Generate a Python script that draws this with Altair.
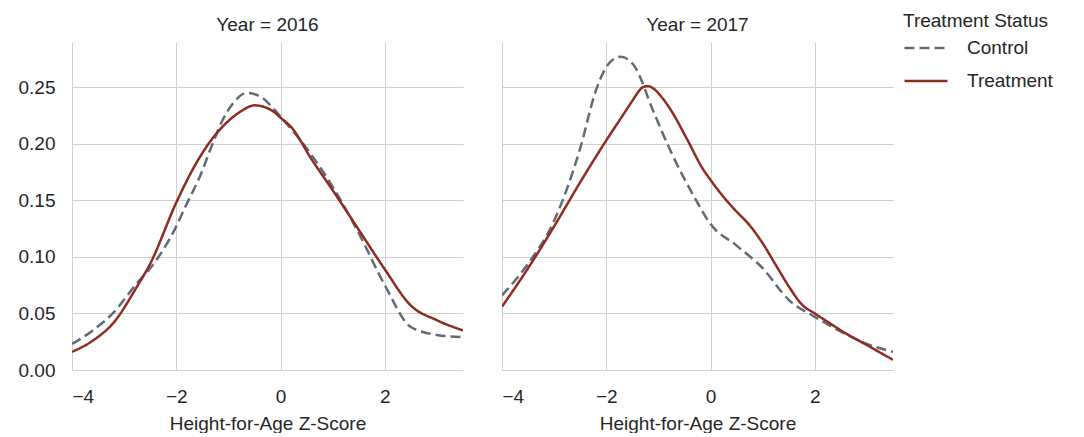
import altair as alt
import pandas as pd

FONT = "Liberation Sans"
TEXT = "#262626"

# ---- data ----
x_2016_treat = [-4, -3.6, -3.2, -2.75, -2.5, -2.0, -1.7, -1.35, -1.05, -0.75, -0.5, -0.15, 0, 0.2, 0.6, 1.0, 1.5, 2.0, 2.5, 3.0, 3.5]
y_2016_treat = [0.016, 0.026, 0.042, 0.074, 0.094, 0.148, 0.176, 0.202, 0.218, 0.229, 0.234, 0.229, 0.223, 0.215, 0.186, 0.159, 0.124, 0.089, 0.057, 0.044, 0.035]

x_2016_ctrl = [-4, -3.6, -3.2, -2.75, -2.5, -2.0, -1.84, -1.52, -1.33, -1.11, -0.89, -0.65, -0.4, -0.13, 0, 0.5, 1.0, 1.5, 2.0, 2.5, 3.0, 3.5]
y_2016_ctrl = [0.023, 0.035, 0.051, 0.077, 0.090, 0.127, 0.143, 0.174, 0.197, 0.221, 0.237, 0.245, 0.242, 0.231, 0.224, 0.196, 0.162, 0.121, 0.075, 0.038, 0.031, 0.029]

x_2017_treat = [-4, -3.5, -3.0, -2.5, -2.0, -1.7, -1.5, -1.4, -1.3, -1.2, -1.1, -0.95, -0.75, -0.45, -0.15, 0, 0.25, 0.5, 0.75, 1.0, 1.25, 1.5, 1.75, 2.0, 2.3, 2.5, 3.0, 3.5]
y_2017_treat = [0.056, 0.090, 0.127, 0.166, 0.203, 0.224, 0.238, 0.245, 0.250, 0.251, 0.249, 0.242, 0.229, 0.204, 0.178, 0.168, 0.153, 0.140, 0.128, 0.112, 0.093, 0.074, 0.058, 0.050, 0.041, 0.035, 0.022, 0.009]

x_2017_ctrl = [-4, -3.5, -3.0, -2.5, -2.2, -1.95, -1.72, -1.45, -1.1, -0.75, -0.3, 0, 0.5, 1.0, 1.5, 2.0, 2.5, 3.0, 3.5]
y_2017_ctrl = [0.066, 0.094, 0.132, 0.196, 0.247, 0.271, 0.277, 0.268, 0.229, 0.192, 0.152, 0.129, 0.110, 0.090, 0.062, 0.047, 0.034, 0.023, 0.016]

statuses = ["Control", "Treatment"]
status_colors = ["#5f6b75", "#8e2c20"]
status_dashes = [[10, 5], [1, 0]]
x_ticks = [-4, -2, 0, 2]
y_ticks = [0, 0.05, 0.10, 0.15, 0.20, 0.25]

rows = []
for year, status, xs, ys in [
    ("2016", "Control", x_2016_ctrl, y_2016_ctrl),
    ("2016", "Treatment", x_2016_treat, y_2016_treat),
    ("2017", "Control", x_2017_ctrl, y_2017_ctrl),
    ("2017", "Treatment", x_2017_treat, y_2017_treat),
]:
    for xv, yv in zip(xs, ys):
        rows.append({"Year": year, "Status": status, "z": xv, "density": yv})
df = pd.DataFrame(rows)

legend = alt.Legend(orient="none", legendX=831, legendY=-30)

base = alt.Chart(df).mark_line(strokeWidth=2.5, interpolate="monotone", clip=True).encode(
    x=alt.X("z:Q", title="Height-for-Age Z-Score",
            scale=alt.Scale(domain=[-4, 3.5], nice=False, zero=False),
            axis=alt.Axis(values=x_ticks, format="d")),
    y=alt.Y("density:Q", title=None,
            scale=alt.Scale(domain=[0, 0.29], nice=False),
            axis=alt.Axis(values=y_ticks, format=".2f")),
    color=alt.Color("Status:N", title="Treatment Status", legend=legend,
                    scale=alt.Scale(domain=statuses, range=status_colors)),
    strokeDash=alt.StrokeDash("Status:N", title="Treatment Status", legend=legend,
                              scale=alt.Scale(domain=statuses, range=status_dashes)),
    detail="Status:N",
).properties(width=391, height=328)

chart = base.facet(
    column=alt.Column("Year:N", title=None,
                      header=alt.Header(labelExpr="'Year = ' + datum.value",
                                        labelFontSize=19, labelFont=FONT,
                                        labelColor=TEXT, labelPadding=7)),
    spacing=39,
).properties(
    padding={"left": 10, "top": 4, "right": 5, "bottom": 0}
).configure_view(
    stroke=None
).configure_axis(
    labelFont=FONT, labelFontSize=19, labelColor=TEXT,
    titleFont=FONT, titleFontSize=19, titleColor=TEXT, titleFontWeight="normal",
    ticks=False, domain=False, grid=True, gridColor="#d0d0d0", gridWidth=1,
    labelPadding=17, titlePadding=8,
).configure_axisY(
    labelPadding=17
).configure_legend(
    titleFont=FONT, titleFontSize=19, titleColor=TEXT, titleFontWeight="normal",
    labelFont=FONT, labelFontSize=19, labelColor=TEXT,
    symbolType="stroke", symbolSize=1849, symbolStrokeWidth=2.5,
    padding=0, labelOffset=18, rowPadding=-22, titlePadding=-6,
)

chart.save("out.html", embed_options={"renderer": "svg", "actions": False})
